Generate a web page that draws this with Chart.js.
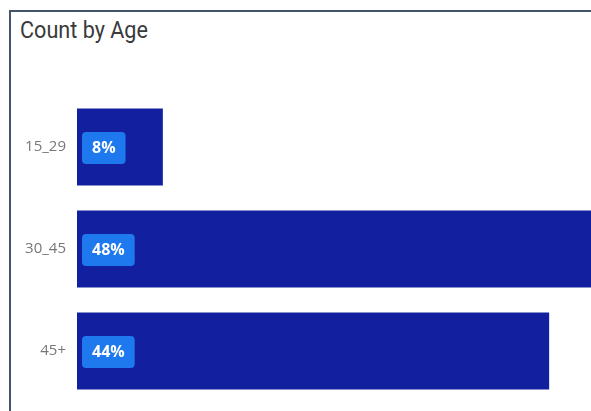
<!DOCTYPE html>
<html>
<head>
<meta charset="utf-8">
<title>Count by Age</title>
<script src="https://cdn.jsdelivr.net/npm/chart.js@4"></script>
<style>
  html, body { margin: 0; padding: 0; background: #fff; overflow: hidden; }
  #wrap { position: relative; width: 591px; height: 411px; overflow: hidden; }
  #frame {
    position: absolute; left: 9px; top: 10px; width: 640px; height: 440px;
    border-left: 2px solid #44546a; border-top: 2px solid #44546a;
  }
  #title {
    position: absolute; left: 20px; top: 16px; white-space: nowrap;
    font-family: "Roboto", sans-serif; font-size: 24px; color: #3a3a3a;
    transform: scaleX(0.9); transform-origin: left top;
  }
  /* a bit taller than the card so the plot runs down to its lower edge */
  #chart { position: absolute; left: 0; top: 0; display: block; }
</style>
</head>
<body>
<div id="wrap">
  <div id="frame"></div>
  <div id="title">Count by Age</div>
  <canvas id="chart" width="591" height="422"></canvas>
</div>
<script>
// age groups and their share of the count (%)
const ageGroups = ["15_29", "30_45", "45+"];
const sharePct = [8, 48, 44];

// rounded blue tag with the value, drawn on the left end of every bar
const valueTags = {
  id: "valueTags",
  afterDatasetsDraw(chart) {
    const ctx = chart.ctx;
    const meta = chart.getDatasetMeta(0);
    ctx.save();
    ctx.font = "bold 16px 'Open Sans', sans-serif";
    ctx.textBaseline = "middle";
    ctx.textAlign = "center";
    meta.data.forEach((bar, i) => {
      const text = sharePct[i] + "%";
      const w = ctx.measureText(text).width + 20;
      const h = 32;
      const x = bar.base + 5;
      const y = bar.y - h / 2 + 1;
      ctx.fillStyle = "#1e78ee";
      ctx.beginPath();
      ctx.roundRect(x, y, w, h, 4);
      ctx.fill();
      ctx.fillStyle = "#fff";
      ctx.fillText(text, x + w / 2, bar.y + 1);
    });
    ctx.restore();
  }
};

new Chart(document.getElementById("chart"), {
  type: "bar",
  data: {
    labels: ageGroups,
    datasets: [{
      data: sharePct,
      backgroundColor: "#121f9e",
      categoryPercentage: 0.755,
      barPercentage: 1
    }]
  },
  options: {
    indexAxis: "y",
    responsive: false,
    animation: false,
    layout: { padding: { top: 96, bottom: 0, left: 20, right: 0 } },
    plugins: { legend: { display: false }, tooltip: { enabled: false } },
    scales: {
      x: { display: false, min: 0, max: 47.9 },
      y: {
        grid: { display: false, drawTicks: false },
        border: { display: false },
        afterFit: s => { s.width = 57; },
        ticks: {
          color: "#777",
          padding: 11,
          font: { family: "'Open Sans', sans-serif", size: 15 }
        }
      }
    }
  },
  plugins: [valueTags]
});
</script>
</body>
</html>
